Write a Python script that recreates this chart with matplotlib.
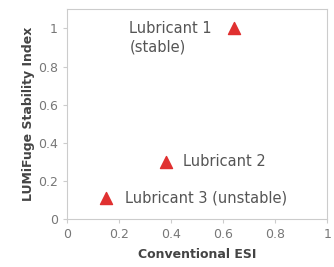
import matplotlib.pyplot as plt

# Lubricant data
names = ["Lubricant 1\n(stable)", "Lubricant 2", "Lubricant 3 (unstable)"]
esi = [0.64, 0.38, 0.15]
lumifuge = [1.0, 0.3, 0.11]
label_x = [0.24, 0.447, 0.223]
label_y = [0.95, 0.3, 0.11]

fig = plt.figure(figsize=(3.34, 2.67), dpi=100)
ax = fig.add_axes([0.20, 0.18, 0.78, 0.785])

ax.scatter(esi, lumifuge, marker='^', s=75, color='#e03030', edgecolors='#e03030', zorder=3)
for name, lx, ly in zip(names, label_x, label_y):
    ax.text(lx, ly, name, fontsize=10.5, color='#555555', va='center', ha='left',
            linespacing=1.25)

ax.set_xlim(0, 1)
ax.set_ylim(0, 1.1)
ax.set_xticks([0, 0.2, 0.4, 0.6, 0.8, 1])
ax.set_xticklabels(['0', '0.2', '0.4', '0.6', '0.8', '1'])
ax.set_yticks([0, 0.2, 0.4, 0.6, 0.8, 1])
ax.set_yticklabels(['0', '0.2', '0.4', '0.6', '0.8', '1'])
ax.tick_params(colors='#cccccc', labelcolor='#777777', labelsize=9, length=3, width=0.8)
for s in ax.spines.values():
    s.set_color('#cccccc')
    s.set_linewidth(0.8)

ax.set_xlabel('Conventional ESI', fontsize=9, fontweight='bold', color='#444444', labelpad=5)
ax.set_ylabel('LUMiFuge Stability Index', fontsize=9, fontweight='bold', color='#444444', labelpad=2)

fig.savefig('out.png', dpi=100)
